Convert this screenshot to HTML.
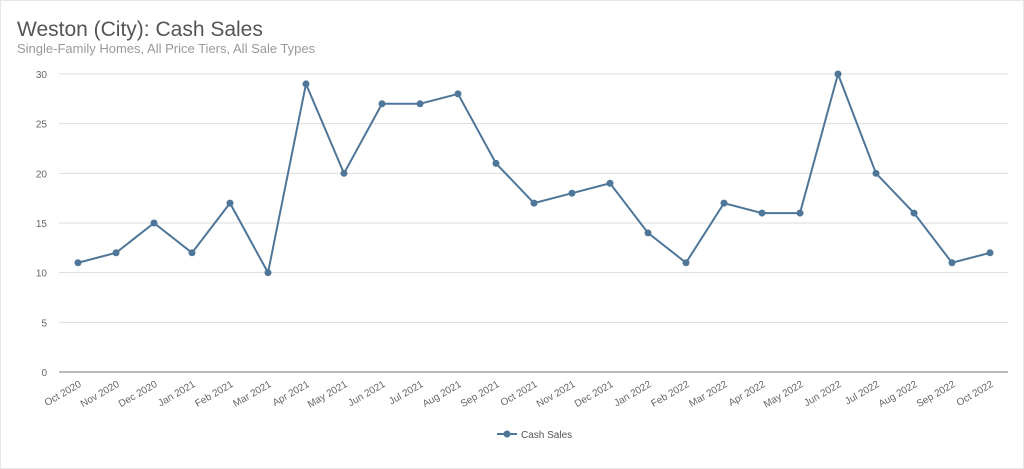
<!DOCTYPE html>
<html><head><meta charset="utf-8"><style>
body{margin:0;background:#fff;font-family:"Liberation Sans",sans-serif;}
#wrap{position:relative;width:1024px;height:469px;overflow:hidden;border:1px solid #e6e6e6;box-sizing:border-box;}
</style></head><body>
<div id="wrap">
<svg id="chart" width="1024" height="469">
<text x="16" y="35" font-size="21" fill="#555">Weston (City): Cash Sales</text>
<text x="16" y="52" font-size="13" fill="#999">Single-Family Homes, All Price Tiers, All Sale Types</text>
<g id="grid"></g><g id="xl"></g><g id="series"></g>
<g>
<line x1="496" y1="433" x2="516" y2="433" stroke="#4e7699" stroke-width="2"/>
<circle cx="506" cy="433" r="3.5" fill="#4e7699"/>
<text x="520" y="437" font-size="10" fill="#555">Cash Sales</text>
</g>
</svg></div>
<script>
const categories=["Oct 2020","Nov 2020","Dec 2020","Jan 2021","Feb 2021","Mar 2021","Apr 2021","May 2021","Jun 2021","Jul 2021","Aug 2021","Sep 2021","Oct 2021","Nov 2021","Dec 2021","Jan 2022","Feb 2022","Mar 2022","Apr 2022","May 2022","Jun 2022","Jul 2022","Aug 2022","Sep 2022","Oct 2022"];
const cashSales=[11,12,15,12,17,10,29,20,27,27,28,21,17,18,19,14,11,17,16,16,30,20,16,11,12];
const yTicks=[0,5,10,15,20,25,30];
const NS="http://www.w3.org/2000/svg";
const x0=77,x1=989,yBase=371,yTop=73,left=58,right=1007;
const xs=i=>x0+i*(x1-x0)/(categories.length-1);
const ys=v=>yBase-(v/30)*(yBase-yTop);
function mk(t,a,p){const e=document.createElementNS(NS,t);for(const k in a)e.setAttribute(k,a[k]);p.appendChild(e);return e;}
const grid=document.getElementById('grid');
yTicks.forEach(v=>{
 const l=mk('line',{x1:left,x2:right,y1:ys(v),y2:ys(v),stroke:v===0?'#777':'#ddd','stroke-width':1},grid);
 
 
 const t=mk('text',{x:46,y:ys(v)+4,'font-size':10,fill:'#666','text-anchor':'end'},grid);
 t.textContent=v;
 
 
});
const xl=document.getElementById('xl');
categories.forEach((c,i)=>{
 const t=mk('text',{x:xs(i)+4,y:yBase+14,'font-size':10,fill:'#666','text-anchor':'end',transform:`rotate(-30 ${xs(i)+4} ${yBase+14})`},xl);
 t.textContent=c;
 
 
});
const s=document.getElementById('series');
const pl=mk('polyline',{points:cashSales.map((v,i)=>xs(i)+','+ys(v)).join(' '),fill:'none',stroke:'#4e7699','stroke-width':2},s);


cashSales.forEach((v,i)=>{
 const c=mk('circle',{cx:xs(i),cy:ys(v),r:3.5,fill:'#4e7699'},s);
 
 
});
</script>
</body></html>
